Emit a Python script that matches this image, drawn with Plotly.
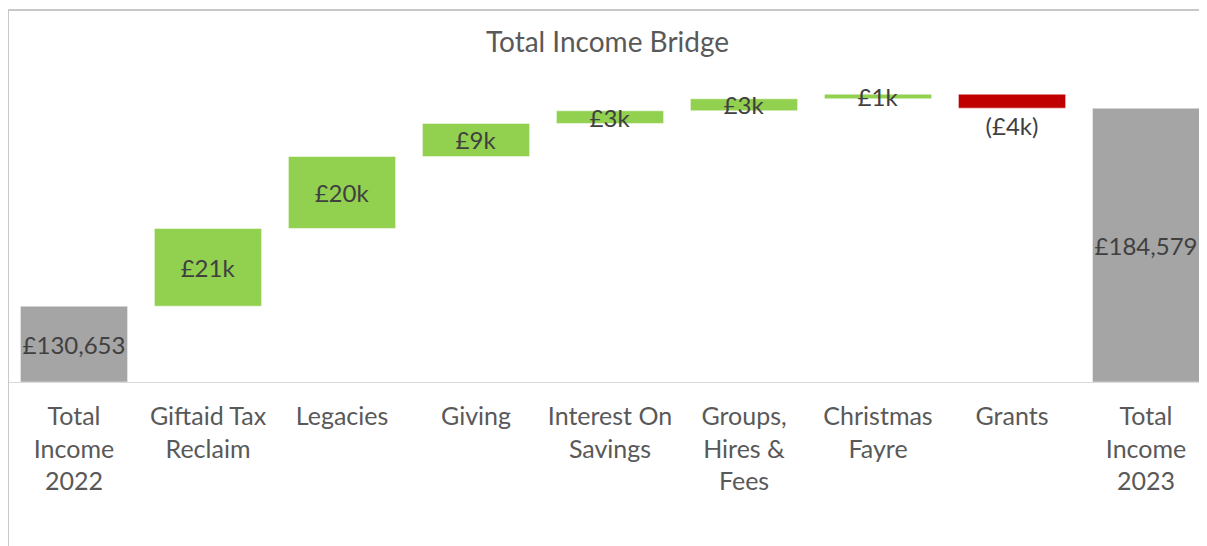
import plotly.graph_objects as go

categories = [
    "Total<br>Income<br>2022",
    "Giftaid Tax<br>Reclaim",
    "Legacies",
    "Giving",
    "Interest On<br>Savings",
    "Groups,<br>Hires &<br>Fees",
    "Christmas<br>Fayre",
    "Grants",
    "Total<br>Income<br>2023",
]
start_total = 130653
changes = [21160, 19600, 8996, 3460, 3270, 1250, -3810]
axis_floor = 110000

# build the bridge: totals sit on the axis floor, steps float on the running sum
end_total = start_total + sum(changes)
bases, heights, colors, labels, positions = [], [], [], [], []

bases.append(axis_floor)
heights.append(start_total - axis_floor)
colors.append("#A5A5A5")
labels.append(f"£{start_total:,}")
positions.append("inside")

running = start_total
for v in changes:
    bases.append(running)
    heights.append(v)
    running += v
    if v >= 0:
        colors.append("#92D050")
        labels.append(f"£{round(v / 1000)}k")
        positions.append("inside")
    else:
        colors.append("#C00000")
        labels.append(f"(£{round(-v / 1000)}k)")
        positions.append("outside")

bases.append(axis_floor)
heights.append(end_total - axis_floor)
colors.append("#A5A5A5")
labels.append(f"£{end_total:,}")
positions.append("inside")

fig = go.Figure()
fig.add_trace(go.Bar(
    x=categories, y=heights, base=bases,
    marker=dict(color=colors, line=dict(color="rgba(255,255,255,0.5)", width=1)),
    text=labels, textposition=positions, insidetextanchor="middle", textangle=0,
    textfont=dict(color="#404040", size=24), cliponaxis=False,
    hoverinfo="skip",
))

# the page body adds an 8px offset, so the figure is sized to the visible area
W, H = 1199, 538
top_m, bot_m = 82, 164
plot_h = H - top_m - bot_m
px_per_unit = 3.672 / 1000
y_top = axis_floor + plot_h / px_per_unit

fig.update_layout(
    width=W, height=H,
    margin=dict(l=0, r=0, t=top_m, b=bot_m),
    paper_bgcolor="white", plot_bgcolor="white",
    font=dict(family="Lato, Open Sans, sans-serif", color="#595959"),
    title=dict(text="Total Income Bridge", x=0.5, xref="paper", xanchor="center",
               y=1 - 34 / H, yanchor="middle",
               font=dict(size=28, color="#595959")),
    bargap=0.2, showlegend=False,
    uniformtext=dict(minsize=24, mode="show"),
    xaxis=dict(range=[-0.4925, 8.455], showline=True, linecolor="#D9D9D9", linewidth=1,
               ticks="", ticklabelstandoff=12, tickfont=dict(size=25, color="#595959"),
               showgrid=False, fixedrange=True),
    yaxis=dict(range=[axis_floor, y_top], visible=False, fixedrange=True),
)

# chart frame (left and top edges visible in the crop)
frame_top = (H - bot_m - 2) / plot_h
fig.add_shape(type="line", xref="paper", yref="paper", x0=0, x1=0, y0=-0.8, y1=frame_top,
              line=dict(color="#C8C8C8", width=2))
fig.add_shape(type="line", xref="paper", yref="paper", x0=0, x1=1.1, y0=frame_top, y1=frame_top,
              line=dict(color="#C8C8C8", width=2))

fig.write_html("out.html")
